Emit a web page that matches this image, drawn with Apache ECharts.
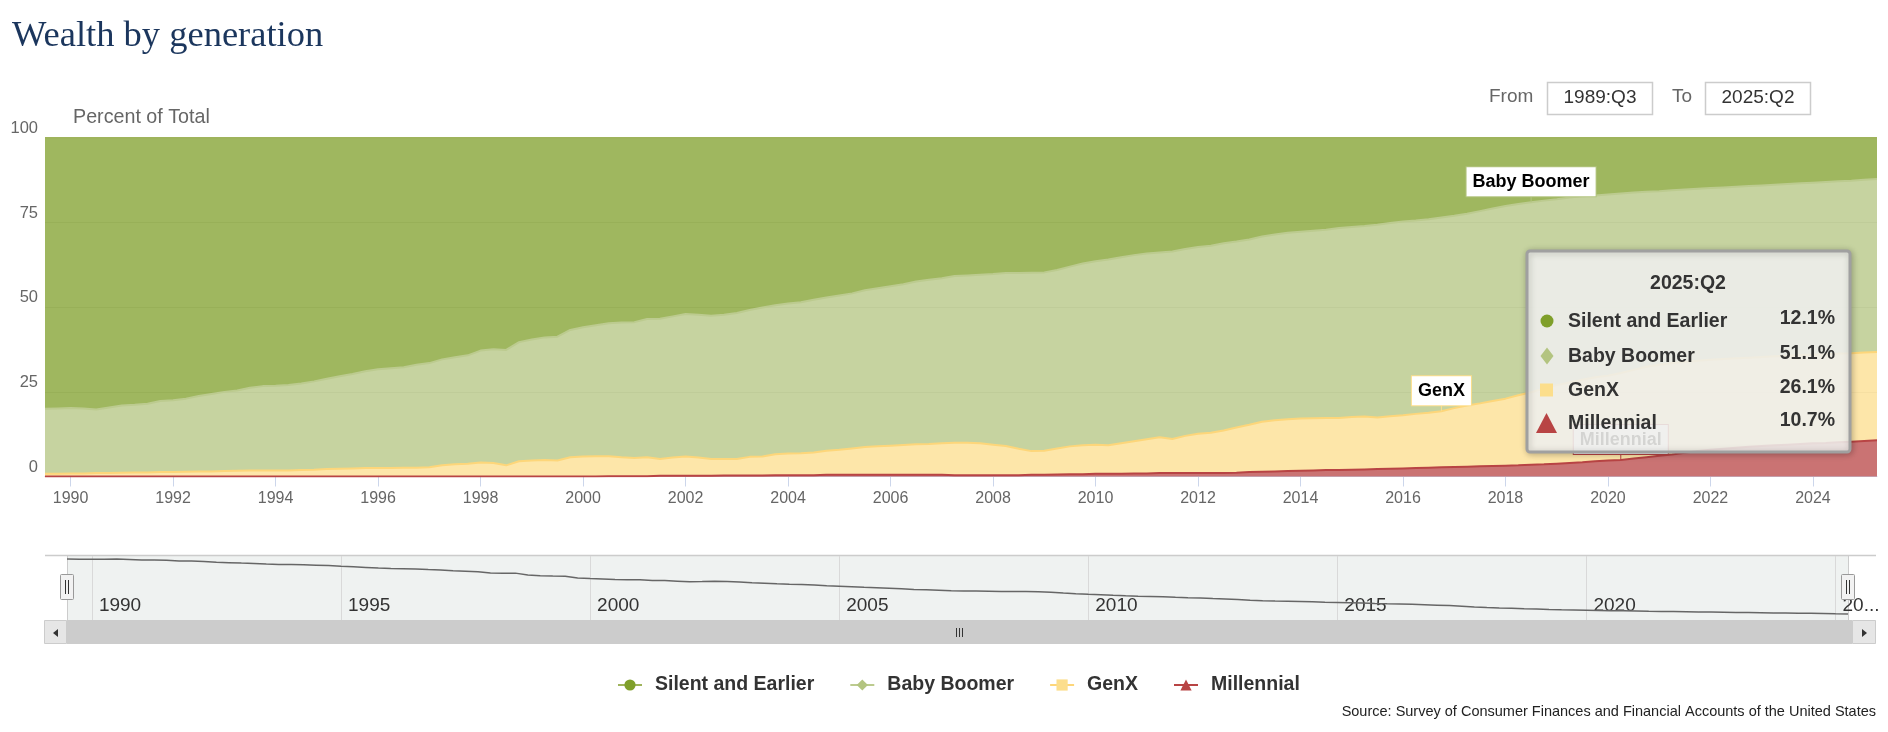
<!DOCTYPE html>
<html><head><meta charset="utf-8">
<script src="https://cdn.jsdelivr.net/npm/echarts@6/dist/echarts.min.js"></script>
<style>html,body{margin:0;padding:0;background:#fff}#chart{width:1888px;height:732px}</style>
</head><body><div id="chart"></div>
<script>
// ---- categories (quarters 1989:Q3 .. 2025:Q2) ----
const firstYear = 1989, firstQ = 3, lastYear = 2025, lastQ = 2;
const quarters = [];
for (let y = firstYear, q = firstQ; y < lastYear || (y === lastYear && q <= lastQ);) {
  quarters.push(y + ':Q' + q); q++; if (q > 4) { q = 1; y++; }
}

// ---- series values (percent of total wealth) ----
const silent = [
  80.0, 79.9,
  79.8, 79.9, 80.2, 79.6,  79.0, 78.8, 78.5, 77.7,  77.5, 77.0, 76.2, 75.6,  75.0, 74.6, 73.8, 73.3,
  73.2, 73.0, 72.5, 71.9,  71.1, 70.4, 69.7, 68.9,  68.3, 68.0, 67.7, 67.0,  66.5, 65.4, 64.8, 64.2,
  62.8, 62.4, 62.6, 60.3,  59.5, 58.9, 58.7, 56.7,  55.9, 55.3, 54.7, 54.5,  54.4, 53.5, 53.4, 52.7,
  52.0, 52.2, 52.5, 52.2,  51.7, 50.8, 50.1, 49.4,  48.9, 48.5, 47.8, 47.1,  46.5, 45.9, 45.0, 44.4,
  43.8, 43.2, 42.4, 41.9,  41.4, 40.8, 40.6, 40.4,  40.2, 39.9, 39.9, 39.8,  39.7, 39.0, 38.0, 37.1,
  36.4, 35.9, 35.2, 34.6,  34.1, 33.8, 33.5, 32.8,  32.2, 31.8, 31.1, 30.6,  30.0, 29.1, 28.5, 28.0,
  27.7, 27.4, 27.1, 26.6,  26.3, 26.0, 25.6, 25.1,  24.7, 24.4, 24.0, 23.5,  23.0, 22.4, 21.6, 20.8,
  20.1, 19.5, 19.0, 18.5,  18.1, 17.6, 17.2, 17.0,  16.7, 16.4, 16.1, 15.9,  15.7, 15.4, 15.2, 15.0,
  14.8, 14.6, 14.4, 14.2,  14.0, 13.8, 13.6, 13.4,  13.2, 13.0, 12.8, 12.6,
  12.3, 12.1
];
const boomer = [
  19.2, 19.3,
  19.3, 19.2, 18.8, 19.4,  19.9, 20.0, 20.3, 21.0,  21.2, 21.6, 22.3, 22.9,  23.4, 23.7, 24.4, 24.9,
  25.0, 25.2, 25.6, 26.1,  26.7, 27.3, 27.9, 28.6,  29.2, 29.5, 29.7, 30.4,  30.8, 31.3, 31.6, 32.0,
  33.1, 33.6, 34.1, 35.2,  35.8, 36.2, 36.6, 37.6,  38.2, 38.7, 39.3, 39.8,  40.1, 40.8, 41.4, 41.7,
  42.1, 42.2, 42.3, 42.6,  43.1, 43.4, 44.0, 44.0,  44.3, 44.6, 45.1, 45.3,  45.6, 45.8, 46.3, 46.7,
  47.1, 47.5, 48.1, 48.5,  48.8, 49.2, 49.4, 49.8,  50.4, 51.1, 51.9, 52.7,  52.7, 52.7, 53.1, 53.7,
  54.2, 54.9, 55.0, 55.0,  54.9, 54.6, 55.4, 55.2,  55.2, 55.3, 55.3, 54.9,  54.7, 54.7, 54.9, 55.1,
  55.2, 55.4, 55.6, 56.1,  56.1, 56.3, 57.0, 57.1,  57.2, 57.1, 57.2, 57.2,  56.8, 56.6, 56.8, 56.9,
  56.9, 56.5, 56.1, 55.5,  54.9, 54.6, 54.2, 53.7,  53.5, 53.0, 52.4, 51.7,  51.3, 51.1, 50.9, 50.8,
  50.7, 50.7, 50.7, 50.7,  50.7, 50.7, 50.7, 50.7,  50.8, 50.9, 50.9, 51.0,
  51.1, 51.1
];
const genx = [
  0.8, 0.8,
  0.9, 0.9, 1.0, 1.0,  1.1, 1.2, 1.2, 1.3,  1.3, 1.4, 1.5, 1.5,  1.6, 1.7, 1.8, 1.8,
  1.8, 1.8, 1.9, 2.0,  2.2, 2.3, 2.4, 2.5,  2.5, 2.5, 2.6, 2.6,  2.7, 3.3, 3.6, 3.8,
  4.1, 4.0, 3.3, 4.5,  4.7, 4.9, 4.7, 5.7,  5.9, 6.0, 5.9, 5.6,  5.4, 5.6, 5.0, 5.4,
  5.7, 5.4, 5.0, 4.9,  4.9, 5.5, 5.6, 6.2,  6.4, 6.5, 6.7, 7.1,  7.4, 7.8, 8.2, 8.4,
  8.6, 8.8, 9.0, 9.1,  9.3, 9.6, 9.6, 9.4,  9.0, 8.6, 7.8, 7.0,  7.1, 7.7, 8.2, 8.5,
  8.6, 8.4, 9.0, 9.5,  10.1, 10.6, 10.1, 11.0,  11.6, 11.9, 12.6, 13.4,  14.0, 14.8, 15.1, 15.3,
  15.4, 15.4, 15.4, 15.4,  15.6, 15.6, 15.2, 15.5,  15.7, 16.0, 16.2, 16.6,  17.4, 18.1, 18.6, 19.2,
  19.8, 20.7, 21.4, 22.4,  23.2, 23.8, 24.4, 24.8,  25.1, 25.7, 26.2, 26.7,  26.9, 27.0, 26.9, 26.7,
  26.6, 26.5, 26.4, 26.3,  26.3, 26.3, 26.3, 26.3,  26.2, 26.2, 26.2, 26.1,
  26.1, 26.1
];
const millennial = [
  0, 0,
  0, 0, 0, 0,  0, 0, 0, 0,  0, 0, 0, 0,  0, 0, 0, 0,
  0, 0, 0, 0,  0, 0, 0, 0,  0, 0, 0, 0,  0, 0, 0, 0,
  0, 0, 0, 0,  0, 0, 0, 0,  0, 0, 0.1, 0.1,  0.1, 0.1, 0.2, 0.2,
  0.2, 0.2, 0.2, 0.3,  0.3, 0.3, 0.3, 0.4,  0.4, 0.4, 0.4, 0.5,  0.5, 0.5, 0.5, 0.5,
  0.5, 0.5, 0.5, 0.5,  0.5, 0.4, 0.4, 0.4,  0.4, 0.4, 0.4, 0.5,  0.5, 0.6, 0.7, 0.7,
  0.8, 0.8, 0.8, 0.9,  0.9, 1.0, 1.0, 1.0,  1.0, 1.0, 1.0, 1.1,  1.3, 1.4, 1.5, 1.6,
  1.7, 1.8, 1.9, 1.9,  2.0, 2.1, 2.2, 2.3,  2.4, 2.5, 2.6, 2.7,  2.8, 2.9, 3.0, 3.1,
  3.2, 3.3, 3.5, 3.6,  3.8, 4.0, 4.2, 4.5,  4.7, 4.9, 5.3, 5.7,  6.1, 6.5, 7.0, 7.5,
  7.9, 8.2, 8.5, 8.8,  9.0, 9.2, 9.4, 9.6,  9.8, 9.9, 10.1, 10.3,
  10.5, 10.7
];

// ---- tick labels ----
const yTicks = [0, 25, 50, 75, 100];
const xTickYears = [1990, 1992, 1994, 1996, 1998, 2000, 2002, 2004, 2006, 2008, 2010, 2012, 2014, 2016, 2018, 2020, 2022, 2024];
const navTickYears = [1990, 1995, 2000, 2005, 2010, 2015, 2020, 2025];

// ---- annotation anchors ----
const annotations = [
  { series: 'Baby Boomer', quarter: '2018:Q3', text: 'Baby Boomer' },
  { series: 'GenX', quarter: '2016:Q4', text: 'GenX' },
  { series: 'Millennial', quarter: '2020:Q2', text: 'Millennial' }
];

const names = ['Silent and Earlier', 'Baby Boomer', 'GenX', 'Millennial'];
const colors = { 'Silent and Earlier': '#7f9f2a', 'Baby Boomer': '#b3c480', 'GenX': '#fcde8c', 'Millennial': '#b84444' };
const lineColors = { 'Silent and Earlier': '#9fb45c', 'Baby Boomer': '#bccb8f', 'GenX': '#fdd67a', 'Millennial': '#b84444' };
const values = { 'Silent and Earlier': silent, 'Baby Boomer': boomer, 'GenX': genx, 'Millennial': millennial };
const stackOrder = ['Millennial', 'GenX', 'Baby Boomer', 'Silent and Earlier'];
const symbols = { 'Silent and Earlier': 'circle', 'Baby Boomer': 'diamond', 'GenX': 'rect', 'Millennial': 'triangle' };

function stackedTop(name, idx) {
  let s = 0;
  for (const n of stackOrder) { s += values[n][idx]; if (n === name) break; }
  return +s.toFixed(2);
}
function isTick(val, years) {
  const p = val.split(':Q');
  return p[1] === '1' && years.indexOf(+p[0]) >= 0;
}

const FONT = '"Liberation Sans", Arial, sans-serif';
const last = quarters.length - 1;

const series = stackOrder.map(n => {
  const ann = annotations.filter(a => a.series === n);
  return {
    name: n, type: 'line', stack: 'total', data: values[n],
    symbol: symbols[n], symbolSize: 12, showSymbol: false,
    lineStyle: { color: lineColors[n], width: 2 },
    itemStyle: { color: colors[n] },
    areaStyle: { color: colors[n], opacity: 0.75 },
    emphasis: { disabled: true },
    markPoint: ann.length ? {
      symbol: 'rect', symbolSize: [1, 6], symbolOffset: [0, -3],
      itemStyle: { color: colors[n] },
      label: {
        show: true, position: 'top', distance: 0, formatter: '{b}',
        color: '#000', fontWeight: 'bold', fontSize: 18, fontFamily: FONT, lineHeight: 20,
        backgroundColor: '#fff', borderColor: colors[n], borderWidth: 1, padding: [5, 6, 4, 6]
      },
      data: ann.map(a => {
        const i = quarters.indexOf(a.quarter);
        return { name: a.text, coord: [a.quarter, stackedTop(n, i)] };
      })
    } : undefined
  };
});

series.push({
  name: 'nav', type: 'line', xAxisIndex: 1, yAxisIndex: 1, data: silent,
  symbol: 'none', lineStyle: { color: '#666', width: 1.5 }, silent: true, z: 3
});

// tooltip-like box (static, for last quarter)
const TZ = 200;
const rowY = [321, 356, 390, 423];
const tipChildren = [
  { type: 'rect', z: TZ, shape: { x: 1527, y: 251, width: 323, height: 201, r: 3 },
    style: { fill: 'rgba(247,247,244,0.86)', stroke: '#a0a0a0', lineWidth: 3,
      shadowBlur: 6, shadowColor: 'rgba(0,0,0,0.25)', shadowOffsetX: 1, shadowOffsetY: 1 } },
  { type: 'text', z: TZ + 1, x: 1688, y: 284, style: { text: quarters[last], fontFamily: FONT, fontWeight: 'bold', fontSize: 19.5, fill: '#333', align: 'center', verticalAlign: 'middle' } },
  { type: 'circle', z: TZ + 1, shape: { cx: 1547, cy: rowY[0], r: 6.5 }, style: { fill: colors['Silent and Earlier'] } },
  { type: 'polygon', z: TZ + 1, shape: { points: [[1547, rowY[1] - 8.5], [1553.5, rowY[1]], [1547, rowY[1] + 8.5], [1540.5, rowY[1]]] }, style: { fill: colors['Baby Boomer'] } },
  { type: 'rect', z: TZ + 1, shape: { x: 1540, y: rowY[2] - 6.5, width: 13, height: 13 }, style: { fill: colors['GenX'] } },
  { type: 'polygon', z: TZ + 1, shape: { points: [[1546.5, rowY[3] - 10], [1557, rowY[3] + 10], [1536, rowY[3] + 10]] }, style: { fill: colors['Millennial'] } }
];
names.forEach((n, k) => {
  tipChildren.push({ type: 'text', z: TZ + 1, x: 1568, y: rowY[k] + 1, style: { text: n, fontFamily: FONT, fontWeight: 'bold', fontSize: 19.5, fill: '#333', align: 'left', verticalAlign: 'middle' } });
  tipChildren.push({ type: 'text', z: TZ + 1, x: 1835, y: rowY[k] - 2, style: { text: values[n][last].toFixed(1) + '%', fontFamily: FONT, fontWeight: 'bold', fontSize: 19.5, fill: '#333', align: 'right', verticalAlign: 'middle' } });
});

const graphic = [
  { type: 'text', x: 12, y: 36, style: { text: 'Wealth by generation', fontFamily: '"Liberation Serif", Georgia, serif', fontSize: 36.5, fill: '#1b365d', align: 'left', verticalAlign: 'middle' } },
  // From / To range inputs
  { type: 'text', x: 1489, y: 97, style: { text: 'From', fontFamily: FONT, fontSize: 19, fill: '#666', align: 'left', verticalAlign: 'middle' } },
  { type: 'rect', shape: { x: 1547.5, y: 82.5, width: 105, height: 32 }, style: { fill: '#fff', stroke: '#cccccc', lineWidth: 1.5 } },
  { type: 'text', x: 1600, y: 98, style: { text: quarters[0], fontFamily: FONT, fontSize: 19, fill: '#333', align: 'center', verticalAlign: 'middle' } },
  { type: 'text', x: 1672, y: 97, style: { text: 'To', fontFamily: FONT, fontSize: 19, fill: '#666', align: 'left', verticalAlign: 'middle' } },
  { type: 'rect', shape: { x: 1705.5, y: 82.5, width: 105, height: 32 }, style: { fill: '#fff', stroke: '#cccccc', lineWidth: 1.5 } },
  { type: 'text', x: 1758, y: 98, style: { text: quarters[last], fontFamily: FONT, fontSize: 19, fill: '#333', align: 'center', verticalAlign: 'middle' } },
  // navigator outline
  { type: 'line', shape: { x1: 45, y1: 555.5, x2: 1876, y2: 555.5 }, style: { stroke: '#cccccc', lineWidth: 1.5 } },
  { type: 'line', shape: { x1: 67.5, y1: 556, x2: 67.5, y2: 620 }, style: { stroke: '#cccccc', lineWidth: 1 } },
  { type: 'line', shape: { x1: 1848.5, y1: 556, x2: 1848.5, y2: 620 }, style: { stroke: '#cccccc', lineWidth: 1 } },
  // navigator handles
  { type: 'rect', z: 10, shape: { x: 60.5, y: 574.5, width: 13, height: 25, r: 1 }, style: { fill: '#f2f2f2', stroke: '#999', lineWidth: 1 } },
  { type: 'line', z: 11, shape: { x1: 65.5, y1: 580, x2: 65.5, y2: 594 }, style: { stroke: '#333', lineWidth: 1 } },
  { type: 'line', z: 11, shape: { x1: 68.5, y1: 580, x2: 68.5, y2: 594 }, style: { stroke: '#333', lineWidth: 1 } },
  { type: 'rect', z: 10, shape: { x: 1841.5, y: 574.5, width: 13, height: 25, r: 1 }, style: { fill: '#f2f2f2', stroke: '#999', lineWidth: 1 } },
  { type: 'line', z: 11, shape: { x1: 1846.5, y1: 580, x2: 1846.5, y2: 594 }, style: { stroke: '#333', lineWidth: 1 } },
  { type: 'line', z: 11, shape: { x1: 1849.5, y1: 580, x2: 1849.5, y2: 594 }, style: { stroke: '#333', lineWidth: 1 } },
  // scrollbar
  { type: 'rect', shape: { x: 45, y: 620, width: 1831, height: 24 }, style: { fill: '#f2f2f2' } },
  { type: 'rect', shape: { x: 67, y: 620, width: 1785, height: 24 }, style: { fill: '#cccccc' } },
  { type: 'rect', shape: { x: 44.5, y: 620.5, width: 22, height: 23 }, style: { fill: '#e6e6e6', stroke: '#cccccc', lineWidth: 1 } },
  { type: 'polygon', shape: { points: [[53, 633], [58, 629], [58, 637]] }, style: { fill: '#333' } },
  { type: 'rect', shape: { x: 1852.5, y: 620.5, width: 23, height: 23 }, style: { fill: '#e6e6e6', stroke: '#cccccc', lineWidth: 1 } },
  { type: 'polygon', shape: { points: [[1867, 633], [1862, 629], [1862, 637]] }, style: { fill: '#333' } },
  { type: 'line', shape: { x1: 956.5, y1: 628, x2: 956.5, y2: 637 }, style: { stroke: '#333', lineWidth: 1 } },
  { type: 'line', shape: { x1: 959.5, y1: 628, x2: 959.5, y2: 637 }, style: { stroke: '#333', lineWidth: 1 } },
  { type: 'line', shape: { x1: 962.5, y1: 628, x2: 962.5, y2: 637 }, style: { stroke: '#333', lineWidth: 1 } },
  // source
  { type: 'text', x: 1876, y: 712, style: { text: 'Source: Survey of Consumer Finances and Financial Accounts of the United States', fontFamily: FONT, fontSize: 14.5, fill: '#222', align: 'right', verticalAlign: 'middle' } }
].concat(tipChildren);

const chart = echarts.init(document.getElementById('chart'), null, { renderer: 'canvas' });
chart.setOption({
  animation: false,
  backgroundColor: '#fff',
  textStyle: { fontFamily: FONT },
  grid: [
    { left: 45, right: 11, top: 138, bottom: 255.5 },
    { left: 67, right: 40, top: 556, bottom: 112, show: true, backgroundColor: '#eff2f1', borderWidth: 0 }
  ],
  legend: {
    data: names, left: 612, top: 670, itemWidth: 24, itemHeight: 14, itemGap: 35,
    textStyle: { fontFamily: FONT, fontSize: 19.5, fontWeight: 'bold', color: '#333', padding: [0, 0, 0, 8] },
    selectedMode: false
  },
  xAxis: [
    {
      type: 'category', data: quarters, boundaryGap: false, gridIndex: 0,
      axisLine: { lineStyle: { color: '#ccd6eb', width: 1 } },
      axisTick: { length: 10, lineStyle: { color: '#ccd6eb' }, interval: (i, v) => isTick(v, xTickYears) },
      axisLabel: { interval: (i, v) => isTick(v, xTickYears), formatter: v => v.split(':')[0], color: '#666', fontSize: 16, margin: 14, fontFamily: FONT },
      splitLine: { show: false }
    },
    {
      type: 'category', data: quarters, boundaryGap: false, gridIndex: 1,
      axisLine: { show: false }, axisTick: { show: false },
      splitLine: { show: true, interval: (i, v) => isTick(v, navTickYears), lineStyle: { color: '#d9d9d9', width: 1 } },
      axisLabel: {
        inside: true, margin: 5, align: 'left', padding: [0, 0, 0, 7], color: '#333', fontSize: 19, fontFamily: FONT,
        interval: (i, v) => isTick(v, navTickYears),
        formatter: v => { const y = v.split(':')[0]; return +y === navTickYears[navTickYears.length - 1] ? y.slice(0, 2) + '...' : y; }
      }
    }
  ],
  yAxis: [
    {
      type: 'value', min: yTicks[0], max: yTicks[yTicks.length - 1], interval: 25, gridIndex: 0,
      name: 'Percent of Total', nameLocation: 'end', nameGap: 20.5,
      nameTextStyle: { color: '#666', fontSize: 19.7, fontFamily: FONT, align: 'left', verticalAlign: 'middle', padding: [0, 0, 0, 28] },
      axisLine: { show: false }, axisTick: { show: false },
      axisLabel: { color: '#666', fontSize: 16.5, margin: 7, verticalAlign: 'bottom', padding: [0, 0, 1, 0], fontFamily: FONT },
      splitLine: { lineStyle: { color: '#e3e3e3', width: 1 } }
    },
    { type: 'value', gridIndex: 1, min: 4.6, max: 83.8, show: false }
  ],
  series: series,
  graphic: graphic
});
</script></body></html>
